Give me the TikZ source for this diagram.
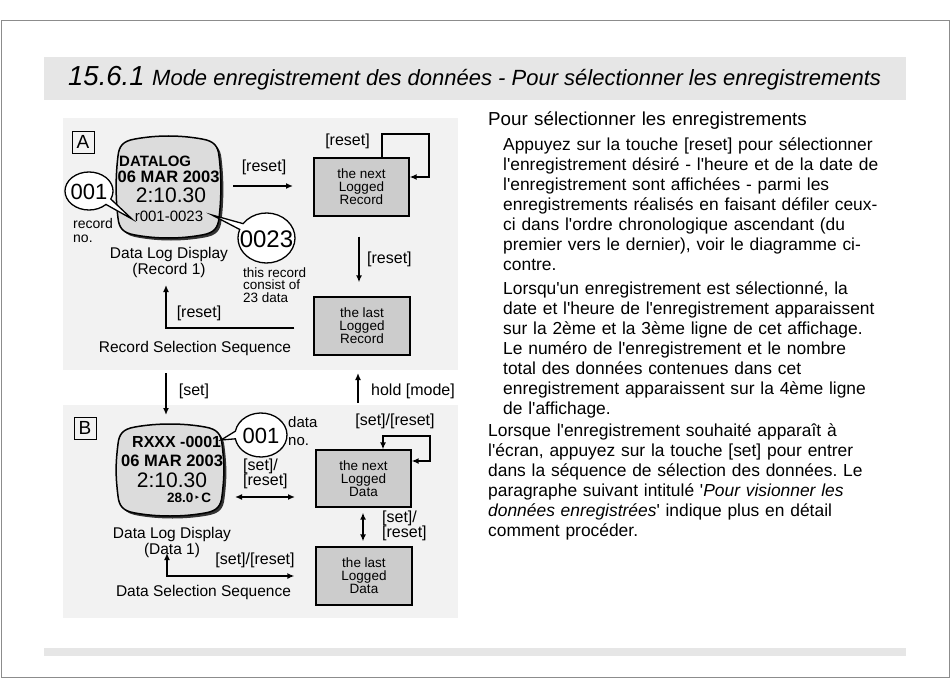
\documentclass[tikz,border=0pt]{standalone}
\usepackage{fontspec}
\setmainfont{Liberation Sans}[Ligatures=TeXOff]
\newfontfamily\dejavu{DejaVu Sans}
\usetikzlibrary{arrows.meta,calc}
\frenchspacing
\definecolor{bandgray}{HTML}{E6E6E6}
\definecolor{panelgray}{HTML}{F2F2F2}
\definecolor{boxgray}{HTML}{CCCCCC}
\definecolor{lcdgray}{HTML}{DCDCDC}
\definecolor{framegray}{HTML}{8C8C8C}
\newcommand{\fsz}[2]{\fontsize{#1}{#2}\selectfont}
\newcommand{\lcdpath}[4]{({#1+18},{#2+3}) .. controls ({#1+40},{#2-1}) and ({#3-40},{#2-1}) .. ({#3-18},{#2+3}) .. controls ({#3-6},{#2+5}) and ({#3-2},{#2+10}) .. ({#3-1},{#2+20}) .. controls ({#3+1.5},{#2+40}) and ({#3+1.5},{#4-40}) .. ({#3-1},{#4-20}) .. controls ({#3-2},{#4-10}) and ({#3-6},{#4-5}) .. ({#3-18},{#4-3}) .. controls ({#3-40},{#4+1}) and ({#1+40},{#4+1}) .. ({#1+18},{#4-3}) .. controls ({#1+6},{#4-5}) and ({#1+2},{#4-10}) .. ({#1+1},{#4-20}) .. controls ({#1-1.5},{#4-40}) and ({#1-1.5},{#2+40}) .. ({#1+1},{#2+20}) .. controls ({#1+2},{#2+10}) and ({#1+6},{#2+5}) .. ({#1+18},{#2+3}) -- cycle}
\tikzset{
  txt/.style={inner sep=0pt, font=\fsz{16}{17}},
  small/.style={inner sep=0pt, font=\fsz{14}{14}},
  para/.style={inner sep=0pt, align=left, text width=440pt, font=\fsz{17.4}{20}\frenchspacing},
  stepbox/.style={draw, line width=1.3pt, fill=boxgray, inner sep=0pt, align=center, font=\fsz{13.5}{13}},
  flow/.style={line width=2.2pt, -{Latex[length=7pt,width=6pt]}},
  flow2/.style={line width=2.2pt, {Latex[length=7pt,width=6pt]}-{Latex[length=7pt,width=6pt]}},
  loopline/.style={line width=2.8pt},
  callout/.style={fill=white, draw=black, line width=1.3pt},
  lbox/.style={draw, line width=0.8pt, minimum width=22pt, minimum height=22pt, inner sep=0pt, font=\fsz{19}{19}},
  lcdbold/.style={inner sep=0pt, font=\fsz{16.5}{16.5}\bfseries},
  arrowhead/.style={-{Latex[length=7pt,width=6pt]}},
  arrowboth/.style={{Latex[length=7pt,width=6pt]}-{Latex[length=7pt,width=6pt]}}
}
\begin{document}
\begin{tikzpicture}[x=1pt,y=-1pt]
\useasboundingbox (0,0) rectangle (950,695);
\fill[white] (0,0) rectangle (950,695);
\draw[framegray, line width=1pt] (1,20.5) rectangle (949,677);
\fill[bandgray] (44,57) rectangle (906,100);
\fill[bandgray] (44,648) rectangle (906,656);
\node[anchor=base west, inner sep=0pt, font=\fsz{27.5}{27.5}\itshape] (hnum) at (68,86) {15.6.1};
\node[anchor=base west, inner sep=0pt, font=\fsz{22}{22}\itshape] (htxt) at (152,86) {Mode enregistrement des données - Pour sélectionner les enregistrements};

% panels
\fill[panelgray] (63,118) rectangle (458,370);
\fill[panelgray] (63,405) rectangle (458,618);

% ---------- panel A ----------
\node[lbox] (labA) at (83,142) {A};
\fill[black!80, shift={(2.5,2.5)}] \lcdpath{117}{136}{220}{238};
\filldraw[fill=lcdgray, draw=black, line width=1.5pt] \lcdpath{117}{136}{220}{238};
\node[lcdbold, anchor=base west, font=\fsz{15}{15}\bfseries] (dA1) at (119,167) {DATALOG};
\node[lcdbold, anchor=base west] (dA2) at (117.5,182.5) {06 MAR 2003};
\node[inner sep=0pt, anchor=base, font=\fsz{21}{21}] (dA3) at (171,203) {2:10.30};
\node[inner sep=0pt, anchor=base, font=\fsz{15}{15}] (dA4) at (169,222) {r001-0023};

\filldraw[callout] (89,191) ++(45:24 and 19) arc[start angle=45, end angle=385, x radius=24, y radius=19] -- (132,219) -- cycle;
\node[inner sep=0pt, font=\fsz{22}{22}] (nA1) at (89,192) {001};
\filldraw[callout] (266.5,238) ++(215:28.5 and 25) arc[start angle=215, end angle=560, x radius=28.5, y radius=25] -- (212,215) -- cycle;
\node[inner sep=0pt, font=\fsz{24}{24}] (nA2) at (266.5,239) {0023};

\node[small, anchor=base west] (recA) at (73,229) {record};
\node[small, anchor=base west] (noA) at (73,242) {no.};
\node[small, anchor=base west, font=\fsz{13.5}{13.5}] (thA1) at (243,277) {this record};
\node[small, anchor=base west, font=\fsz{13.5}{13.5}] (thA2) at (243,289.5) {consist of};
\node[small, anchor=base west, font=\fsz{13.5}{13.5}] (thA3) at (243,302) {23 data};
\node[txt, anchor=base, font=\fsz{15.5}{15.5}] (dlA1) at (169,258) {Data Log Display};
\node[txt, anchor=base, font=\fsz{15.5}{15.5}] (dlA2) at (169,274) {(Record 1)};

\node[stepbox, minimum width=95pt, minimum height=58pt] (nextA) at (361.5,187) {the next\\Logged\\Record};
\node[stepbox, minimum width=96pt, minimum height=58pt] (lastA) at (362,326) {the last\\Logged\\Record};

\coordinate (a1s) at (233,186);
\coordinate (a1e) at (293,186);
\draw[flow] (a1s) -- (a1e);
\node[txt, anchor=base] (rs1) at (264,172) {[reset]};

\coordinate (lpA) at (429,134);
\coordinate (lpAy) at (0,177);
\draw[loopline, arrowhead] (nextA.north -| 382,0) |- (lpA) |- (nextA.east |- lpAy);
\node[txt, anchor=base] (rs2) at (347.5,146) {[reset]};

\draw[flow] ($(nextA.south)+(-2.5,20)$) -- ($(lastA.north)+(-3,-14)$);
\node[txt, anchor=base west] (rs3) at (367,263) {[reset]};

\coordinate (retA) at (166,285);
\draw[line width=2.5pt, arrowhead] ($(lastA.west)+(-19,2)$) -| (retA);
\node[txt, anchor=base] (rs4) at (199,317) {[reset]};
\node[txt, anchor=base, font=\fsz{15.5}{15.5}] (rssA) at (195,352) {Record Selection Sequence};

% ---------- between panels ----------
\coordinate (set1) at (166,373);
\coordinate (set2) at (166,415);
\draw[flow] (set1) -- (set2);
\node[txt, anchor=base] (setl) at (194,395) {[set]};
\coordinate (hm1) at (358,403);
\coordinate (hm2) at (358,373);
\draw[flow] (hm1) -- (hm2);
\node[txt, anchor=base west] (hml) at (371,395) {hold [mode]};

% ---------- panel B ----------
\node[lbox] (labB) at (85,428) {B};
\fill[black!80, shift={(2.5,2.5)}] \lcdpath{117}{424}{223}{516};
\filldraw[fill=lcdgray, draw=black, line width=1.5pt] \lcdpath{117}{424}{223}{516};
\node[lcdbold, anchor=base west, font=\fsz{16}{16}\bfseries] (dB1) at (132,447) {RXXX -0001};
\node[lcdbold, anchor=base west] (dB2) at (121,466) {06 MAR 2003};
\node[inner sep=0pt, anchor=base, font=\fsz{21}{21}] (dB3) at (172,487) {2:10.30};
\node[inner sep=0pt, anchor=base west, font=\fsz{13.5}{13.5}\bfseries] (dB4) at (167,502) {28.0\,\raisebox{3pt}{\dejavu\fsz{7}{7}▸}\,C};

\filldraw[callout] (261,435) ++(190:26 and 22) arc[start angle=190, end angle=530, x radius=26, y radius=22] -- (221,440) -- cycle;
\node[inner sep=0pt, font=\fsz{22}{22}] (nB1) at (261,436) {001};
\node[txt, anchor=base west, font=\fsz{15}{15}] (daB) at (288,427) {data};
\node[txt, anchor=base west, font=\fsz{15}{15}] (noB) at (288,445) {no.};

\node[txt, anchor=base west] (sr1) at (243,470) {[set]/};
\node[txt, anchor=base west] (sr2) at (243,485) {[reset]};
\coordinate (db1) at (235,497);
\coordinate (db2) at (295,497);
\draw[flow2] (db1) -- (db2);

\node[stepbox, minimum width=95pt, minimum height=57pt] (nextB) at (363.5,478.5) {the next\\Logged\\Data};
\node[stepbox, minimum width=96pt, minimum height=58pt] (lastB) at (364,576) {the last\\Logged\\Data};

\coordinate (lpB) at (430,436);
\coordinate (lpBy) at (0,461);
\draw[loopline, arrowboth] (nextB.east |- lpBy) -| (lpB) -| (nextB.north -| 383,0);
\node[txt, anchor=base] (sr3) at (395,425) {[set]/[reset]};

\draw[flow2] ($(nextB.south)+(-0.5,5)$) -- ($(lastB.north)+(-1,-5)$);
\node[txt, anchor=base west] (sr4) at (382,522) {[set]/};
\node[txt, anchor=base west] (sr5) at (382,537) {[reset]};

\coordinate (retB) at (167,553);
\draw[line width=2.5pt, arrowboth] (retB) |- ($(lastB.west)+(-21,0)$);
\node[txt, anchor=base] (sr6) at (255,564) {[set]/[reset]};
\node[txt, anchor=base, font=\fsz{15.5}{15.5}] (dlB1) at (172,538) {Data Log Display};
\node[txt, anchor=base, font=\fsz{15.5}{15.5}] (dlB2) at (172,554) {(Data 1)};
\node[txt, anchor=base, font=\fsz{15.5}{15.5}] (dssB) at (203.5,596) {Data Selection Sequence};

% ---------- right text ----------
\node[para, anchor=base west, font=\fsz{18.8}{20}] (p0) at (488,126) {Pour sélectionner les enregistrements};
\node[para, anchor=base west] (p1) at (503,151) {Appuyez sur la touche [reset] pour sélectionner\\
l'enregistrement désiré - l'heure et de la date de\\
l'enregistrement sont affichées - parmi les\\
enregistrements réalisés en faisant défiler ceux-\\
ci dans l'ordre chronologique ascendant (du\\
premier vers le dernier), voir le diagramme ci-\\
contre.};
\node[para, anchor=base west] (p2) at (503,294) {Lorsqu'un enregistrement est sélectionné, la\\
date et l'heure de l'enregistrement apparaissent\\
sur la 2ème et la 3ème ligne de cet affichage.\\
Le numéro de l'enregistrement et le nombre\\
total des données contenues dans cet\\
enregistrement apparaissent sur la 4ème ligne\\
de l'affichage.};
\node[para, anchor=base west] (p3) at (488,436) {Lorsque l'enregistrement souhaité apparaît à\\
l'écran, appuyez sur la touche [set] pour entrer\\
dans la séquence de sélection des données. Le\\
paragraphe suivant intitulé '\textit{Pour visionner les}\\
\textit{données enregistrées}' indique plus en détail\\
comment procéder.};
\end{tikzpicture}
\end{document}
